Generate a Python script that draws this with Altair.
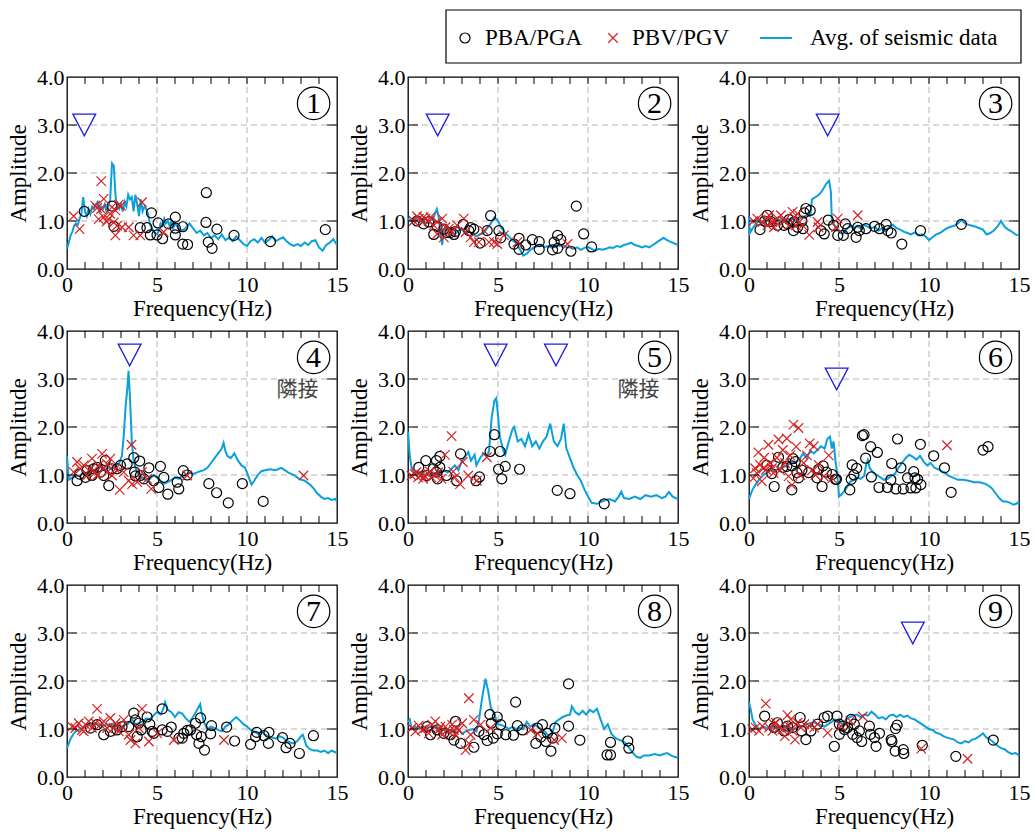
import altair as alt
import pandas as pd

FONT = "Liberation Serif"
CJK = "Noto Sans CJK JP"
W, H = 270, 192
LINE_COLOR = "#0aa0dc"
CIRC_COLOR = "black"
CROSS_COLOR = "#d42222"
TRI_COLOR = "#1c1ce6"
XMARK = "M-1,-1L1,1M-1,1L1,-1"
TRI = "M-1,-0.95L1,-0.95L0,0.95Z"

# ---------------- data (frequency Hz, amplitude) ----------------
line1 = [(0.0,0.42),(0.1,0.55),(0.2,0.7),(0.3,0.78),(0.4,0.9),(0.5,0.95),(0.6,0.92),(0.7,1.05),(0.8,1.15),(0.9,1.5),(1.0,1.2),(1.1,1.1),(1.2,1.25),(1.3,1.15),(1.4,1.3),(1.5,1.25),(1.6,1.35),(1.7,1.4),(1.8,1.2),(1.9,1.3),(2.0,1.25),(2.1,1.35),(2.2,1.2),(2.3,1.3),(2.4,1.45),(2.5,2.2),(2.6,2.15),(2.7,1.5),(2.8,1.3),(2.9,1.25),(3.0,1.35),(3.1,1.2),(3.2,1.4),(3.3,1.3),(3.4,1.55),(3.5,1.45),(3.6,1.5),(3.7,1.2),(3.8,1.55),(3.9,1.35),(4.0,1.1),(4.1,1.45),(4.2,1.2),(4.3,1.3),(4.4,1.25),(4.5,1.15),(4.6,0.95),(4.7,0.85),(4.8,0.8),(4.9,0.75),(5.0,0.72),(5.1,0.8),(5.2,0.95),(5.3,0.9),(5.4,1.05),(5.5,0.95),(5.6,1.0),(5.7,0.9),(5.8,1.0),(5.9,0.85),(6.0,0.95),(6.2,0.85),(6.4,0.8),(6.6,0.85),(6.8,0.95),(7.0,0.85),(7.2,0.75),(7.4,0.8),(7.6,0.7),(7.8,0.75),(8.0,0.65),(8.2,0.7),(8.4,0.62),(8.6,0.72),(8.8,0.6),(9.0,0.65),(9.2,0.58),(9.4,0.68),(9.6,0.6),(9.8,0.52),(10.0,0.48),(10.2,0.58),(10.4,0.62),(10.6,0.55),(10.8,0.65),(11.0,0.55),(11.2,0.6),(11.4,0.68),(11.6,0.58),(11.8,0.62),(12.0,0.66),(12.2,0.58),(12.4,0.52),(12.6,0.48),(12.8,0.52),(13.0,0.48),(13.2,0.55),(13.4,0.5),(13.6,0.58),(13.8,0.6),(14.0,0.45),(14.2,0.38),(14.4,0.5),(14.6,0.55),(14.8,0.62),(15.0,0.5)]
circ1 = [(0.96,1.2),(2.5,1.31),(2.6,0.89),(4.07,0.86),(4.44,0.86),(4.69,1.17),(4.63,0.71),(5.06,0.96),(5.0,0.71),(5.31,0.63),(5.65,0.94),(6.02,1.08),(6.02,0.85),(6.02,0.71),(6.43,0.88),(6.43,0.52),(6.7,0.51),(7.74,1.59),(7.72,0.97),(7.85,0.56),(8.06,0.43),(8.33,0.83),(9.28,0.7),(11.3,0.57),(14.35,0.82)]
cross1 = [(0.37,1.1),(0.7,0.83),(1.9,1.83),(1.57,1.32),(1.67,1.27),(2.04,1.46),(1.76,1.04),(2.04,1.08),(2.31,1.04),(2.4,1.15),(2.2,0.99),(2.6,0.97),(2.69,1.22),(2.78,0.9),(2.69,0.7),(3.0,1.32),(3.06,0.87),(3.43,0.87),(3.7,0.7),(4.07,0.7),(4.17,1.39),(5.37,0.77),(1.89,1.25),(2.5,1.29),(2.87,1.34)]
tri1 = [(0.96,3.0)]

line2 = [(0,1.05),(0.2,1.0),(0.4,1.05),(0.6,0.98),(0.8,1.02),(1.0,0.95),(1.2,1.0),(1.4,1.05),(1.6,1.25),(1.7,1.1),(1.8,0.75),(1.9,0.5),(2.0,0.8),(2.2,0.85),(2.4,0.78),(2.6,0.72),(2.8,0.8),(3.0,0.82),(3.2,0.75),(3.4,0.78),(3.6,0.72),(3.8,0.68),(4.0,0.72),(4.2,0.75),(4.4,0.85),(4.6,0.95),(4.8,1.08),(5.0,1.0),(5.2,0.85),(5.4,0.75),(5.6,0.68),(5.8,0.6),(6.0,0.55),(6.2,0.42),(6.4,0.28),(6.6,0.32),(6.8,0.4),(7.0,0.45),(7.2,0.48),(7.4,0.5),(7.6,0.46),(7.8,0.48),(8.0,0.44),(8.2,0.5),(8.4,0.48),(8.6,0.5),(8.8,0.46),(9.0,0.45),(9.2,0.42),(9.4,0.45),(9.6,0.4),(9.8,0.44),(10.0,0.46),(10.2,0.42),(10.4,0.38),(10.6,0.42),(10.8,0.4),(11.0,0.42),(11.2,0.45),(11.4,0.44),(11.6,0.48),(11.8,0.46),(12.0,0.5),(12.2,0.52),(12.4,0.55),(12.6,0.5),(12.8,0.48),(13.0,0.45),(13.2,0.48),(13.4,0.45),(13.6,0.5),(13.8,0.55),(14.0,0.6),(14.2,0.65),(14.3,0.62),(14.5,0.58),(14.7,0.55),(15.0,0.5)]
circ2 = [(4.59,1.11),(9.35,1.31),(9.76,0.73),(10.2,0.46),(1.43,0.72),(1.99,0.83),(2.36,0.76),(2.55,0.72),(3.07,0.93),(3.48,0.86),(3.66,0.83),(4.0,0.54),(5.05,0.8),(5.15,0.65),(5.89,0.52),(6.17,0.64),(6.17,0.41),(6.54,0.5),(6.91,0.61),(7.29,0.57),(7.29,0.41),(8.03,0.4),(8.12,0.56),(8.31,0.7),(8.49,0.61),(8.31,0.43),(9.05,0.37),(0.87,0.94),(0.5,1.0),(1.15,0.98),(1.62,0.89),(2.17,0.76),(2.63,0.78),(3.38,0.8),(4.4,0.8)]
cross2 = [(0.32,1.0),(0.6,1.05),(0.8,0.98),(0.97,1.05),(1.15,1.0),(1.43,0.91),(1.62,0.98),(1.9,1.05),(2.08,0.87),(1.99,0.66),(2.27,0.84),(2.45,0.77),(2.73,0.91),(3.1,1.05),(3.2,0.77),(3.48,0.66),(3.66,0.56),(3.94,0.56),(4.22,0.8),(4.5,0.56),(4.78,0.56),(4.96,0.52),(5.33,0.7),(6.08,0.56),(8.86,0.52),(0.5,1.1),(0.87,1.08),(1.25,1.08),(1.62,0.73)]
tri2 = [(1.65,3.0)]

line3 = [(0,1.1),(0.05,0.75),(0.2,0.85),(0.4,0.95),(0.6,1.0),(0.8,0.95),(1.0,1.02),(1.2,0.98),(1.4,0.95),(1.6,1.0),(1.8,1.05),(2.0,1.02),(2.2,0.98),(2.4,1.05),(2.6,1.0),(2.8,1.05),(3.0,1.08),(3.2,1.12),(3.4,1.1),(3.5,1.45),(3.7,1.5),(3.9,1.55),(4.1,1.65),(4.3,1.78),(4.45,1.84),(4.55,1.6),(4.6,1.05),(4.7,0.95),(4.8,0.88),(5.0,0.78),(5.2,0.72),(5.4,0.82),(5.6,0.9),(5.8,0.85),(6.0,0.9),(6.2,0.85),(6.4,0.92),(6.6,0.88),(6.8,0.85),(7.0,0.88),(7.2,0.8),(7.4,0.85),(7.6,0.78),(7.8,0.88),(8.0,0.92),(8.2,0.85),(8.4,0.82),(8.6,0.78),(8.8,0.75),(9.0,0.72),(9.2,0.76),(9.4,0.7),(9.6,0.72),(9.8,0.68),(10.0,0.6),(10.2,0.66),(10.4,0.72),(10.6,0.75),(10.8,0.8),(11.0,0.85),(11.2,0.88),(11.4,0.9),(11.6,0.95),(11.8,1.02),(12.0,0.95),(12.2,0.92),(12.4,0.9),(12.6,0.88),(12.8,0.85),(13.0,0.82),(13.2,0.72),(13.4,0.75),(13.6,0.8),(13.8,0.88),(14.0,1.0),(14.2,0.88),(14.4,0.82),(14.6,0.78),(14.8,0.72),(15.0,0.7)]
circ3 = [(0.61,0.82),(0.87,1.0),(1.21,0.99),(1.58,0.91),(1.95,0.91),(2.14,0.94),(2.47,0.8),(2.7,0.87),(2.94,1.0),(3.07,1.17),(3.16,1.26),(3.4,1.22),(3.0,0.84),(4.0,0.8),(4.18,0.73),(4.4,1.02),(4.7,0.91),(4.93,0.7),(5.24,0.7),(5.35,0.94),(5.48,0.84),(5.95,0.66),(6.04,0.87),(6.13,0.8),(6.5,0.84),(6.97,0.89),(7.25,0.84),(7.62,0.93),(7.71,0.8),(7.9,0.75),(8.49,0.52),(9.53,0.8),(11.8,0.93),(1.02,1.12),(2.23,1.03),(2.5,0.98)]
cross3 = [(0.24,1.0),(0.46,1.05),(0.74,0.98),(0.93,1.05),(1.12,1.12),(1.3,0.98),(1.39,0.87),(1.58,1.05),(1.77,1.12),(1.95,1.0),(2.23,0.91),(2.42,1.19),(2.51,1.08),(2.7,1.15),(2.79,0.98),(2.97,0.91),(3.35,0.71),(3.81,0.98),(3.86,0.87),(4.93,1.05),(4.83,0.87),(6.04,1.12),(1.39,1.0),(1.02,0.91),(2.6,0.91)]
tri3 = [(4.37,3.0)]

line4 = [(0,1.4),(0.1,0.9),(0.3,0.95),(0.5,1.0),(0.7,0.98),(0.9,1.05),(1.1,1.02),(1.3,1.1),(1.5,1.08),(1.7,1.12),(1.9,1.2),(2.1,1.1),(2.3,1.15),(2.5,1.12),(2.7,1.2),(2.9,1.25),(3.05,1.4),(3.15,1.8),(3.25,2.4),(3.35,2.8),(3.42,3.17),(3.5,2.6),(3.6,1.7),(3.7,1.3),(3.85,1.1),(4.0,1.0),(4.2,0.95),(4.4,0.88),(4.6,0.92),(4.8,1.0),(5.0,0.95),(5.2,0.88),(5.4,0.82),(5.6,0.85),(5.8,0.9),(6.0,0.95),(6.2,0.92),(6.4,0.98),(6.6,1.0),(6.8,1.05),(7.0,1.02),(7.2,1.05),(7.4,1.08),(7.6,1.1),(7.8,1.15),(8.0,1.25),(8.2,1.35),(8.4,1.45),(8.6,1.55),(8.7,1.67),(8.8,1.5),(8.9,1.4),(9.1,1.35),(9.3,1.45),(9.5,1.3),(9.7,1.2),(9.9,1.15),(10.1,0.95),(10.25,0.8),(10.4,0.88),(10.6,1.0),(10.8,1.08),(11.0,1.1),(11.3,1.12),(11.6,1.1),(11.9,1.15),(12.1,1.1),(12.3,1.05),(12.6,1.0),(12.9,0.92),(13.2,0.88),(13.5,0.8),(13.7,0.72),(13.9,0.62),(14.1,0.55),(14.3,0.5),(14.5,0.52),(14.7,0.48),(14.9,0.5),(15.0,0.45)]
circ4 = [(0.56,0.88),(1.02,0.95),(1.11,1.09),(1.39,0.99),(1.67,1.16),(1.86,1.06),(2.04,0.99),(2.13,1.3),(2.32,0.78),(2.5,1.13),(2.78,1.13),(2.97,1.2),(3.34,1.23),(3.71,1.36),(4.04,1.29),(3.75,1.06),(3.8,0.98),(4.08,0.99),(4.27,0.92),(4.55,1.15),(4.82,0.88),(5.19,1.18),(5.38,0.95),(5.1,0.74),(5.6,0.6),(6.12,0.85),(6.21,0.71),(6.46,1.09),(6.68,1.0),(7.88,0.82),(8.31,0.63),(8.96,0.42),(9.74,0.82),(10.9,0.45),(0.7,1.02),(1.48,1.13)]
cross4 = [(0.37,1.06),(0.56,1.27),(0.74,1.13),(0.93,1.2),(1.11,0.99),(1.3,1.13),(1.39,1.34),(1.58,1.06),(1.76,1.2),(1.95,1.44),(2.04,1.13),(2.23,1.23),(2.41,1.34),(2.5,0.99),(2.69,1.13),(2.93,0.69),(3.15,1.06),(3.43,0.88),(3.58,1.63),(3.62,0.81),(3.9,0.85),(4.17,1.06),(4.45,0.92),(4.68,0.71),(6.68,0.99),(13.14,0.99),(1.67,0.99),(2.23,1.06)]
tri4 = [(3.48,3.5)]

line5 = [(0,1.9),(0.1,1.4),(0.2,1.15),(0.4,1.02),(0.6,1.05),(0.8,1.0),(1.0,1.02),(1.2,0.98),(1.4,1.05),(1.6,1.0),(1.8,1.08),(2.0,1.1),(2.2,1.05),(2.4,1.12),(2.6,1.2),(2.8,1.1),(3.0,1.3),(3.2,1.4),(3.35,1.48),(3.5,1.3),(3.7,1.42),(3.8,1.2),(4.0,1.35),(4.2,1.45),(4.4,1.4),(4.5,1.5),(4.65,2.2),(4.8,2.55),(4.9,2.6),(5.0,2.25),(5.1,1.8),(5.3,1.5),(5.4,1.42),(5.6,1.7),(5.8,1.95),(5.9,2.0),(6.1,1.7),(6.3,1.75),(6.5,1.6),(6.7,1.85),(6.9,1.6),(7.1,1.7),(7.3,1.55),(7.5,1.7),(7.7,1.8),(7.9,2.07),(8.1,1.7),(8.3,1.6),(8.5,1.75),(8.65,2.07),(8.8,1.55),(9.0,1.35),(9.2,1.15),(9.4,1.0),(9.6,0.88),(9.8,0.7),(10.0,0.55),(10.2,0.42),(10.5,0.4),(10.8,0.45),(11.0,0.48),(11.2,0.5),(11.5,0.45),(11.7,0.55),(11.85,0.65),(12.0,0.52),(12.3,0.5),(12.6,0.55),(12.9,0.5),(13.2,0.58),(13.5,0.55),(13.8,0.58),(14.1,0.52),(14.3,0.55),(14.5,0.65),(14.7,0.55),(15.0,0.5)]
circ5 = [(0.6,1.16),(0.99,1.3),(1.4,1.13),(1.58,1.3),(1.64,0.92),(1.77,1.39),(1.58,1.06),(2.14,0.99),(2.7,0.88),(2.92,1.44),(3.78,0.88),(3.97,0.96),(4.56,1.49),(4.8,1.84),(5.12,1.49),(5.03,1.12),(5.21,0.92),(5.4,1.18),(6.2,1.12),(8.29,0.68),(9.0,0.61),(10.9,0.4),(1.02,0.99),(1.77,1.16)]
cross5 = [(0.19,0.99),(0.37,1.02),(0.56,0.95),(0.74,1.0),(0.93,0.98),(1.12,1.02),(1.3,0.95),(1.49,1.0),(1.68,1.06),(1.86,0.92),(2.05,1.42),(2.42,1.81),(2.51,1.07),(2.89,0.81),(2.61,0.95),(3.04,1.27),(3.35,0.99),(3.82,0.88),(4.38,1.37),(0.47,1.06),(0.84,0.92),(1.21,1.07)]
tri5 = [(4.87,3.5),(8.22,3.5)]

line6 = [(0,0.5),(0.2,0.7),(0.4,0.82),(0.6,0.92),(0.8,1.0),(1.0,1.05),(1.2,1.1),(1.4,1.08),(1.6,1.12),(1.8,1.15),(2.0,1.18),(2.2,1.22),(2.4,1.25),(2.6,1.28),(2.8,1.32),(3.0,1.45),(3.2,1.35),(3.4,1.5),(3.6,1.45),(3.8,1.52),(4.0,1.6),(4.2,1.55),(4.35,1.75),(4.5,1.8),(4.6,1.55),(4.7,1.7),(4.8,1.3),(4.9,1.05),(5.0,0.55),(5.2,0.62),(5.4,0.72),(5.6,0.85),(5.8,0.9),(6.0,0.95),(6.2,0.92),(6.4,0.98),(6.5,1.2),(6.6,1.31),(6.7,1.15),(6.9,1.05),(7.1,1.0),(7.3,0.95),(7.5,0.9),(7.7,0.92),(7.9,0.98),(8.1,1.02),(8.3,1.15),(8.5,1.25),(8.7,1.35),(8.9,1.42),(9.1,1.38),(9.3,1.32),(9.5,1.4),(9.7,1.28),(9.9,1.2),(10.1,1.25),(10.3,1.15),(10.5,1.12),(10.7,1.08),(10.9,1.05),(11.1,0.98),(11.3,0.95),(11.6,0.9),(11.9,0.9),(12.2,0.88),(12.5,0.85),(12.8,0.85),(13.1,0.82),(13.3,0.78),(13.5,0.72),(13.7,0.62),(13.9,0.52),(14.1,0.45),(14.3,0.45),(14.5,0.42),(14.7,0.38),(14.85,0.4),(15.0,0.45)]
circ6 = [(1.4,0.76),(1.64,1.37),(1.88,1.16),(2.1,1.18),(2.38,1.19),(2.38,0.69),(2.44,1.34),(2.57,1.28),(2.66,1.05),(2.75,0.94),(2.94,1.1),(3.31,1.05),(3.78,0.94),(3.87,1.12),(4.06,0.76),(4.12,1.19),(4.3,1.06),(4.62,1.01),(4.8,0.91),(4.86,0.91),(5.6,0.69),(5.68,0.91),(5.73,1.21),(5.83,1.0),(5.98,1.14),(6.3,1.82),(6.39,1.84),(6.48,1.35),(6.76,1.59),(6.8,0.96),(7.13,1.47),(7.22,0.74),(7.69,0.74),(7.93,1.24),(7.88,0.9),(8.16,0.71),(8.25,1.75),(8.44,1.15),(8.57,0.71),(8.81,0.94),(9.0,0.73),(9.15,1.07),(9.22,0.94),(9.27,0.73),(9.37,0.91),(9.52,1.64),(9.55,0.8),(10.26,1.4),(10.86,1.15),(11.23,0.64),(13.0,1.52),(13.28,1.59),(0.99,1.2),(1.27,1.03)]
cross6 = [(0.24,0.93),(0.43,1.04),(0.52,1.47),(0.61,1.21),(0.71,0.87),(0.84,1.36),(0.95,1.11),(1.08,1.63),(1.17,1.25),(1.36,1.04),(1.55,1.36),(1.64,1.74),(1.73,1.1),(1.88,1.52),(2.01,1.25),(2.1,1.76),(2.2,0.97),(2.29,1.41),(2.38,0.79),(2.47,2.05),(2.62,1.59),(2.75,1.98),(2.85,1.0),(3.04,1.25),(3.22,1.41),(3.37,1.66),(3.5,1.1),(3.6,1.6),(3.69,1.0),(3.87,1.21),(4.15,0.97),(4.43,1.41),(4.62,0.93),(11.0,1.62),(0.34,1.14),(0.8,1.14),(1.27,1.14)]
tri6 = [(4.87,3.0)]

line7 = [(0,0.6),(0.2,0.8),(0.4,0.92),(0.6,0.98),(0.8,1.0),(1.0,1.05),(1.2,1.08),(1.4,1.1),(1.6,1.12),(1.8,1.08),(2.0,1.05),(2.2,1.1),(2.4,1.08),(2.6,1.12),(2.8,1.05),(3.0,1.0),(3.2,1.08),(3.4,1.12),(3.6,1.2),(3.8,1.1),(4.0,1.12),(4.2,1.15),(4.4,1.22),(4.6,1.2),(4.8,1.28),(5.0,1.35),(5.2,1.3),(5.35,1.42),(5.45,1.56),(5.6,1.4),(5.8,1.35),(6.0,1.25),(6.2,1.35),(6.4,1.32),(6.6,1.22),(6.8,1.15),(7.0,1.25),(7.2,1.38),(7.4,1.52),(7.5,1.3),(7.6,1.15),(7.8,1.0),(8.0,1.05),(8.2,1.02),(8.4,0.98),(8.6,0.95),(8.8,1.05),(9.0,1.1),(9.2,1.18),(9.4,1.25),(9.6,1.18),(9.8,1.1),(10.0,1.05),(10.2,0.98),(10.4,0.95),(10.6,0.9),(10.8,0.95),(11.0,0.88),(11.2,0.85),(11.4,0.82),(11.6,0.8),(11.8,0.85),(12.0,0.82),(12.2,0.75),(12.4,0.72),(12.6,0.7),(12.8,0.75),(13.0,0.85),(13.1,0.88),(13.3,0.65),(13.5,0.58),(13.7,0.55),(13.9,0.55),(14.1,0.52),(14.3,0.55),(14.5,0.5),(14.7,0.55),(15.0,0.5)]
circ7 = [(2.04,0.88),(2.41,0.95),(2.78,0.98),(3.06,1.05),(3.43,1.05),(3.71,1.33),(3.8,1.19),(3.99,1.12),(3.9,0.84),(4.12,0.98),(4.45,1.25),(4.6,1.1),(4.73,0.95),(4.82,0.91),(5.29,1.42),(5.29,0.98),(5.57,0.95),(5.79,1.04),(6.22,0.81),(6.4,0.81),(6.49,0.91),(6.68,0.97),(6.86,0.98),(7.14,1.12),(7.2,0.88),(7.33,0.7),(7.42,1.23),(7.46,0.84),(7.64,0.56),(8.03,1.07),(7.98,0.9),(8.87,1.04),(9.31,0.75),(10.2,0.68),(10.48,0.84),(10.54,0.93),(10.94,0.86),(11.22,0.93),(11.19,0.7),(11.97,0.82),(12.17,0.61),(12.39,0.7),(12.91,0.49),(13.69,0.86),(1.67,1.09),(1.3,1.02)]
cross7 = [(0.28,1.05),(0.46,1.02),(0.65,1.12),(0.83,0.98),(1.02,1.09),(1.21,1.16),(1.39,1.02),(1.58,1.12),(1.67,1.42),(1.86,1.09),(2.04,1.16),(2.23,1.02),(2.41,1.23),(2.6,1.02),(2.69,1.12),(2.88,0.95),(3.06,1.05),(3.15,1.19),(3.43,0.88),(3.53,0.77),(3.8,0.7),(3.99,1.02),(4.17,1.42),(4.55,0.74),(5.01,0.91),(5.94,0.77),(8.72,0.77),(0.93,0.95)]
tri7 = []

line8 = [(0,1.15),(0.1,1.2),(0.2,1.0),(0.4,1.05),(0.6,1.0),(0.8,1.05),(1.0,1.0),(1.2,1.05),(1.4,1.02),(1.6,1.05),(1.8,1.0),(2.0,0.98),(2.2,1.0),(2.4,0.95),(2.6,0.98),(2.8,1.0),(3.0,0.9),(3.2,0.95),(3.4,0.98),(3.6,1.0),(3.8,0.95),(3.95,1.2),(4.1,1.6),(4.3,2.05),(4.45,1.8),(4.6,1.45),(4.8,1.3),(5.0,1.1),(5.2,1.08),(5.4,1.05),(5.6,1.0),(5.8,1.05),(6.0,1.0),(6.2,1.02),(6.4,1.0),(6.6,1.15),(6.8,1.05),(7.0,1.1),(7.2,1.05),(7.4,1.0),(7.6,0.95),(7.8,0.85),(8.0,0.9),(8.2,1.15),(8.4,1.2),(8.6,1.25),(8.8,1.28),(9.0,1.3),(9.1,1.47),(9.3,1.35),(9.5,1.3),(9.7,1.38),(9.9,1.3),(10.1,1.4),(10.3,1.35),(10.5,1.42),(10.7,1.2),(10.9,1.0),(11.1,1.1),(11.3,0.9),(11.5,0.82),(11.7,0.78),(11.9,0.75),(12.1,0.7),(12.3,0.6),(12.5,0.5),(12.7,0.42),(12.9,0.4),(13.1,0.45),(13.4,0.45),(13.7,0.48),(14.0,0.45),(14.2,0.48),(14.4,0.5),(14.6,0.45),(14.8,0.42),(15.0,0.4)]
circ8 = [(1.06,1.05),(1.25,0.88),(1.62,0.98),(1.99,0.91),(2.36,0.88),(2.55,0.77),(2.64,1.16),(2.92,0.7),(3.66,0.62),(3.94,0.95),(4.22,0.88),(4.4,0.76),(4.55,1.3),(4.63,1.12),(4.74,0.81),(4.96,1.25),(4.96,0.9),(5.15,1.09),(5.43,0.88),(5.86,0.87),(5.98,1.56),(6.08,1.07),(6.36,0.98),(7.1,0.7),(7.19,1.02),(7.38,0.83),(7.47,1.09),(7.66,0.74),(7.75,0.91),(7.94,0.54),(8.03,0.81),(8.16,1.02),(8.92,1.94),(8.92,1.06),(9.55,0.77),(11.06,0.46),(11.25,0.46),(11.25,0.72),(12.21,0.75),(12.27,0.6)]
cross8 = [(0.22,1.02),(0.41,0.95),(0.59,1.07),(0.78,0.98),(0.97,1.02),(1.15,0.91),(1.34,1.09),(1.52,1.16),(1.71,0.98),(1.9,0.88),(2.08,1.05),(2.27,0.95),(2.45,1.09),(2.64,0.88),(2.83,0.98),(3.01,1.12),(3.2,0.56),(3.38,1.64),(3.38,0.7),(3.48,0.88),(3.66,1.19),(4.03,1.09),(4.59,1.02),(6.82,0.98),(7.19,0.91),(8.12,0.77),(8.55,0.81),(1.8,1.05),(2.55,0.98)]
tri8 = []

line9 = [(0,1.55),(0.1,1.4),(0.2,1.2),(0.4,1.05),(0.6,1.0),(0.8,1.05),(1.0,1.02),(1.2,1.0),(1.4,1.03),(1.6,1.0),(1.8,1.05),(2.0,1.03),(2.2,1.0),(2.4,1.02),(2.6,1.0),(2.8,1.05),(3.0,1.05),(3.2,1.1),(3.4,1.12),(3.6,1.15),(3.8,1.1),(4.0,1.08),(4.2,1.05),(4.4,1.1),(4.6,1.15),(4.8,1.2),(5.0,1.15),(5.2,1.1),(5.4,1.2),(5.6,1.25),(5.8,1.28),(6.0,1.3),(6.2,1.25),(6.4,1.3),(6.6,1.28),(6.8,1.36),(7.0,1.3),(7.2,1.22),(7.4,1.25),(7.6,1.2),(7.8,1.28),(8.0,1.3),(8.2,1.25),(8.4,1.3),(8.6,1.25),(8.8,1.28),(9.0,1.22),(9.2,1.2),(9.4,1.15),(9.6,1.1),(9.8,1.05),(10.0,1.0),(10.2,0.98),(10.4,0.92),(10.6,0.9),(10.8,0.85),(11.0,0.82),(11.2,0.8),(11.4,0.78),(11.6,0.72),(11.8,0.7),(12.0,0.75),(12.2,0.72),(12.4,0.78),(12.6,0.8),(12.8,0.85),(13.0,0.91),(13.2,0.82),(13.4,0.78),(13.6,0.72),(13.8,0.65),(14.0,0.6),(14.2,0.58),(14.4,0.52),(14.6,0.48),(14.8,0.5),(15.0,0.45)]
circ9 = [(0.87,1.27),(1.39,1.03),(1.95,0.96),(2.42,1.03),(2.84,1.24),(2.92,0.96),(3.16,0.78),(3.44,0.96),(3.81,1.1),(4.18,1.24),(4.37,1.27),(4.74,0.64),(4.89,1.27),(5.02,1.1),(5.02,0.89),(5.2,1.06),(5.3,0.99),(5.48,1.03),(5.67,1.2),(5.76,0.89),(5.85,1.1),(6.0,0.82),(6.13,0.96),(6.26,0.74),(6.69,1.06),(6.75,0.89),(6.97,0.82),(7.06,0.64),(7.25,0.91),(7.9,0.78),(7.94,0.74),(8.14,1.01),(8.23,1.08),(8.12,0.54),(8.57,0.57),(8.6,0.49),(9.63,0.66),(11.49,0.43),(13.57,0.77),(1.58,1.13),(2.14,1.06)]
cross9 = [(0.19,0.99),(0.37,1.03),(0.56,0.96),(0.74,1.06),(0.93,1.53),(1.12,1.03),(1.3,0.96),(1.49,1.13),(1.67,1.03),(1.86,0.99),(1.99,0.85),(2.14,1.29),(2.23,1.06),(2.42,0.96),(2.55,0.78),(2.7,1.13),(2.88,1.03),(3.07,1.1),(3.35,1.06),(3.62,1.03),(3.81,1.1),(4.37,0.92),(5.11,1.06),(5.63,1.17),(6.32,1.26),(9.57,0.59),(12.14,0.38),(1.39,1.1),(2.32,1.2)]
tri9 = [(9.1,3.0)]

adjacent_panels = [4, 5]
ADJ_TEXT = "隣接"
X_TICKS = [0, 5, 10, 15]
Y_TICKS = [0, 1, 2, 3, 4]
X_GRID = [5, 10]
Y_GRID = [1, 2, 3]
X_MINOR = list(range(1, 15))
LABEL_POS = (13.7, 3.45)
ADJ_POS = (12.8, 2.78)

LEGEND_LABELS = ["PBA/PGA", "PBV/PGV", "Avg. of seismic data"]

panels_data = [
    (1, line1, circ1, cross1, tri1), (2, line2, circ2, cross2, tri2), (3, line3, circ3, cross3, tri3),
    (4, line4, circ4, cross4, tri4), (5, line5, circ5, cross5, tri5), (6, line6, circ6, cross6, tri6),
    (7, line7, circ7, cross7, tri7), (8, line8, circ8, cross8, tri8), (9, line9, circ9, cross9, tri9),
]


def df(pts):
    return pd.DataFrame(pts, columns=["f", "a"])


xsc = alt.Scale(domain=[0, 15], nice=False, zero=False)
ysc = alt.Scale(domain=[0, 4], nice=False, zero=False)
xax = alt.Axis(values=X_TICKS, title="Frequency(Hz)", grid=False, ticks=False, domain=False,
               labelFlush=False, labelOverlap=False, labelFont=FONT, labelFontSize=22,
               labelColor="black", titleFont=FONT, titleFontSize=23, titleFontWeight="normal",
               titleColor="black", labelPadding=5, titlePadding=2)
yax = alt.Axis(values=Y_TICKS, format=".1f", title="Amplitude", grid=False, ticks=False, domain=False,
               labelFlush=False, labelOverlap=False, labelFont=FONT, labelFontSize=22,
               labelColor="black", titleFont=FONT, titleFontSize=23, titleFontWeight="normal",
               titleColor="black", labelPadding=3, titlePadding=6)


def X(field="f"):
    return alt.X(f"{field}:Q", scale=xsc, axis=xax)


def Y(field="a"):
    return alt.Y(f"{field}:Q", scale=ysc, axis=yax)


def panel(num, line, circ, cross, tri):
    layers = []
    layers.append(alt.Chart(pd.DataFrame({"f": X_GRID})).mark_rule(
        color="#b4b4b4", strokeDash=[6, 4], strokeWidth=1).encode(x=X()))
    layers.append(alt.Chart(pd.DataFrame({"a": Y_GRID})).mark_rule(
        color="#b4b4b4", strokeDash=[6, 4], strokeWidth=1).encode(y=Y()))
    layers.append(alt.Chart(df(line)).mark_line(color=LINE_COLOR, strokeWidth=2).encode(
        x=X(), y=Y(), order="f:Q"))
    layers.append(alt.Chart(df(circ)).mark_point(shape="circle", size=100, filled=False,
                                                 color=CIRC_COLOR, strokeWidth=1.2, opacity=1).encode(x=X(), y=Y()))
    layers.append(alt.Chart(df(cross)).mark_point(shape=XMARK, size=90, filled=False,
                                                  color=CROSS_COLOR, strokeWidth=1.2, opacity=1).encode(x=X(), y=Y()))
    if tri:
        layers.append(alt.Chart(df(tri)).mark_point(shape=TRI, size=520, filled=False,
                                                    color=TRI_COLOR, strokeWidth=1.3, opacity=1).encode(x=X(), y=Y()))
    lab = pd.DataFrame({"f": [LABEL_POS[0]], "a": [LABEL_POS[1]], "t": [str(num)]})
    layers.append(alt.Chart(lab).mark_point(shape="circle", size=1050, filled=False, color="black",
                                            strokeWidth=1.2, opacity=1).encode(x=X(), y=Y()))
    layers.append(alt.Chart(lab).mark_text(font=FONT, fontSize=30, color="black", align="center",
                                           baseline="middle", dy=1).encode(x=X(), y=Y(), text="t:N"))
    if num in adjacent_panels:
        adj = pd.DataFrame({"f": [ADJ_POS[0]], "a": [ADJ_POS[1]], "t": [ADJ_TEXT]})
        layers.append(alt.Chart(adj).mark_text(font=CJK, fontSize=21, color="#444444", align="center",
                                               baseline="middle").encode(x=X(), y=Y(), text="t:N"))
    mx = pd.DataFrame({"f": X_MINOR})
    layers.append(alt.Chart(mx).mark_rule(color="black", strokeWidth=1).encode(
        x=X(), y=alt.value(H), y2=alt.value(H - 7)))
    layers.append(alt.Chart(mx).mark_rule(color="black", strokeWidth=1).encode(
        x=X(), y=alt.value(0), y2=alt.value(7)))
    my = pd.DataFrame({"a": Y_GRID})
    layers.append(alt.Chart(my).mark_rule(color="black", strokeWidth=1).encode(
        y=Y(), x=alt.value(0), x2=alt.value(10)))
    layers.append(alt.Chart(my).mark_rule(color="black", strokeWidth=1).encode(
        y=Y(), x=alt.value(W), x2=alt.value(W - 10)))
    return alt.layer(*layers).properties(width=W, height=H)


grid = alt.concat(*[panel(*p) for p in panels_data], columns=3,
                  spacing=alt.RowColnumber(row=62, column=71), bounds="flush")

# ---------------- legend box ----------------
LW, LH = 956, 53
lsx = alt.Scale(domain=[0, LW], nice=False, zero=False)
lsy = alt.Scale(domain=[0, LH], nice=False, zero=False, reverse=True)
box = pd.DataFrame({"x": [379], "x2": [954], "y": [0], "y2": [LH]})
sym = pd.DataFrame({"x": [398, 546], "y": [28, 28], "k": LEGEND_LABELS[:2]})
seg = pd.DataFrame({"x": [693], "x2": [725], "y": [28]})
txt = pd.DataFrame({"x": [418, 565, 743], "y": [28, 28, 28], "t": LEGEND_LABELS})

lx = lambda f="x": alt.X(f"{f}:Q", scale=lsx, axis=None)
ly = lambda f="y": alt.Y(f"{f}:Q", scale=lsy, axis=None)
legend = alt.layer(
    alt.Chart(box).mark_rect(filled=False, color="black", strokeWidth=1.2).encode(
        x=lx(), x2="x2:Q", y=ly(), y2="y2:Q"),
    alt.Chart(sym.iloc[[0]]).mark_point(shape="circle", size=100, filled=False, color=CIRC_COLOR,
                                         strokeWidth=1.2, opacity=1).encode(x=lx(), y=ly()),
    alt.Chart(sym.iloc[[1]]).mark_point(shape=XMARK, size=90, filled=False, color=CROSS_COLOR,
                                         strokeWidth=1.2, opacity=1).encode(x=lx(), y=ly()),
    alt.Chart(seg).mark_rule(color=LINE_COLOR, strokeWidth=2).encode(x=lx(), x2="x2:Q", y=ly()),
    alt.Chart(txt).mark_text(font=FONT, fontSize=23, color="black", align="left",
                             baseline="middle").encode(x=lx(), y=ly(), text="t:N"),
).properties(width=LW, height=LH, view=alt.ViewBackground(stroke="transparent"))

chart = alt.vconcat(legend, grid, spacing=14, bounds="flush").configure_view(
    stroke="black", strokeWidth=1.3
).properties(background="white", padding={"left": 6, "top": 8, "right": 5, "bottom": 5})

chart.save("out.html", embed_options={"renderer": "svg", "actions": False})
